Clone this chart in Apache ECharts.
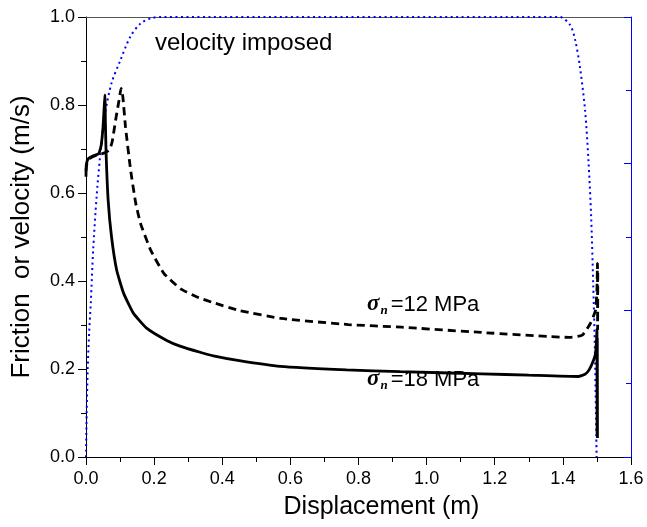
<!DOCTYPE html>
<html>
<head>
<meta charset="utf-8">
<script src="https://cdn.jsdelivr.net/npm/echarts@6/dist/echarts.min.js"></script>
<style>html,body{margin:0;padding:0;background:#fff}#c{width:647px;height:527px}</style>
</head>
<body>
<div id="c"></div>
<script>
// Displacement (m) / value pairs
const velocityX = [0,0.002,0.005,0.009,0.014,0.021,0.031,0.041,0.056,0.075,0.1,0.13,0.16,0.19,0.22,1.39,1.421,1.436,1.45,1.465,1.475,1.483,1.489,1.494,1.499];
const velocityY = [0,0.1,0.2,0.28,0.35,0.47,0.59,0.68,0.78,0.85,0.9,0.955,0.985,0.997,1.0,1.0,0.982,0.948,0.887,0.789,0.675,0.546,0.395,0.243,0.0];

const s18X = [0,0.0005,0.003,0.008,0.02,0.028,0.038,0.042,0.045,0.05,0.053,0.0555,0.057,0.059,0.065,0.075,0.09,0.11,0.139,0.178,0.237,0.276,0.335,0.374,0.45,0.57,0.765,0.922,1.162,1.3,1.445,1.465,1.477,1.49,1.496,1.499,1.5,1.5005,1.501,1.5015];
const s18Y = [0.637,0.66,0.672,0.679,0.684,0.686,0.69,0.70,0.71,0.75,0.79,0.823,0.76,0.69,0.584,0.5,0.425,0.373,0.327,0.293,0.265,0.252,0.238,0.230,0.219,0.206,0.198,0.194,0.189,0.186,0.183,0.188,0.198,0.22,0.236,0.27,0.29,0.05,0.27,0.043];

const s12X = [0,0.003,0.01,0.03,0.05,0.062,0.07,0.077,0.087,0.097,0.103,0.108,0.116,0.131,0.146,0.16,0.19,0.229,0.278,0.331,0.377,0.45,0.573,0.77,0.927,1.162,1.418,1.457,1.481,1.496,1.5,1.5015,1.502,1.5025];
const s12Y = [0.65,0.668,0.678,0.686,0.69,0.694,0.70,0.717,0.766,0.811,0.838,0.82,0.75,0.652,0.577,0.531,0.47,0.417,0.382,0.362,0.350,0.333,0.315,0.301,0.295,0.283,0.272,0.277,0.304,0.334,0.38,0.44,0.29,0.43];

const xTicks = {min:0, max:1.6, step:0.2};
const yTicks = {min:0, max:1.0, step:0.2};

const zip = (a,b) => a.map((v,i)=>[v,b[i]]);
const FONT = 'Arial, "Liberation Sans", sans-serif';
const SERIF = '"Times New Roman", "Liberation Serif", serif';

const chart = echarts.init(document.getElementById('c'), null, {renderer:'canvas'});
chart.setOption({
  animation:false,
  backgroundColor:'#fff',
  grid:{left:86, right:16, top:17, bottom:70, containLabel:false},
  xAxis:[{
    type:'value', min:xTicks.min, max:xTicks.max, interval:xTicks.step,
    name:'Displacement (m)', nameLocation:'middle', nameGap:38,
    nameTextStyle:{fontFamily:FONT, fontSize:25, color:'#000', padding:[0,0,0,46]},
    axisLine:{onZero:false, lineStyle:{color:'#000', width:1}},
    axisTick:{inside:false, length:8, lineStyle:{color:'#000'}},
    minorTick:{show:true, splitNumber:2, length:5, lineStyle:{color:'#000'}},
    axisLabel:{fontFamily:FONT, fontSize:18, color:'#000', margin:13, formatter:v=>v.toFixed(1)},
    splitLine:{show:false}
  },{
    type:'value', position:'top', min:xTicks.min, max:xTicks.max,
    axisLine:{show:true, onZero:false, lineStyle:{color:'#555', width:1}},
    axisTick:{show:false}, axisLabel:{show:false}, splitLine:{show:false}
  }],
  yAxis:[{
    type:'value', min:yTicks.min, max:yTicks.max, interval:yTicks.step,
    name:'Friction  or velocity (m/s)', nameLocation:'middle', nameGap:51,
    nameTextStyle:{fontFamily:FONT, fontSize:26, color:'#000'},
    axisLine:{show:true, onZero:false, lineStyle:{color:'#000', width:1}},
    axisTick:{inside:false, length:8, lineStyle:{color:'#000'}},
    minorTick:{show:true, splitNumber:2, length:5, lineStyle:{color:'#000'}},
    axisLabel:{fontFamily:FONT, fontSize:18, color:'#000', margin:11, formatter:v=>v.toFixed(1)},
    splitLine:{show:false}
  },{
    type:'value', position:'right', min:0, max:6, interval:2,
    axisLine:{show:true, onZero:false, lineStyle:{color:'#0000ff', width:1}},
    axisTick:{inside:true, length:7, lineStyle:{color:'#0000ff'}},
    minorTick:{show:true, splitNumber:2, length:5, lineStyle:{color:'#0000ff'}},
    axisLabel:{show:false}, splitLine:{show:false}
  }],
  series:[{
    type:'line', name:'velocity imposed', data:zip(velocityX, velocityY),
    showSymbol:false, smooth:0.3, lineStyle:{color:'#0000ff', width:2, type:[2,3.5]}
  },{
    type:'line', name:'sn=12', data:zip(s12X, s12Y),
    showSymbol:false, smooth:0.15, lineStyle:{color:'#000', width:2.8, type:[8,5]}
  },{
    type:'line', name:'sn=18', data:zip(s18X, s18Y),
    showSymbol:false, smooth:0.15, lineStyle:{color:'#000', width:2.8}
  }],
  graphic:[{
    type:'text', left:155, top:31,
    style:{text:'velocity imposed', font:'24px '+FONT, fill:'#000'}
  },{
    type:'text', left:367, top:293,
    style:{text:'{s|σ}{n|n}{t|=12 MPa}', rich:{
      s:{font:'italic bold 23px '+SERIF, fill:'#000'},
      n:{font:'italic bold 13px '+SERIF, fill:'#000', padding:[12,3,0,1]},
      t:{font:'22px '+FONT, fill:'#000'}
    }}
  },{
    type:'text', left:367, top:368,
    style:{text:'{s|σ}{n|n}{t|=18 MPa}', rich:{
      s:{font:'italic bold 23px '+SERIF, fill:'#000'},
      n:{font:'italic bold 13px '+SERIF, fill:'#000', padding:[12,3,0,1]},
      t:{font:'22px '+FONT, fill:'#000'}
    }}
  }]
});
</script>
</body>
</html>
